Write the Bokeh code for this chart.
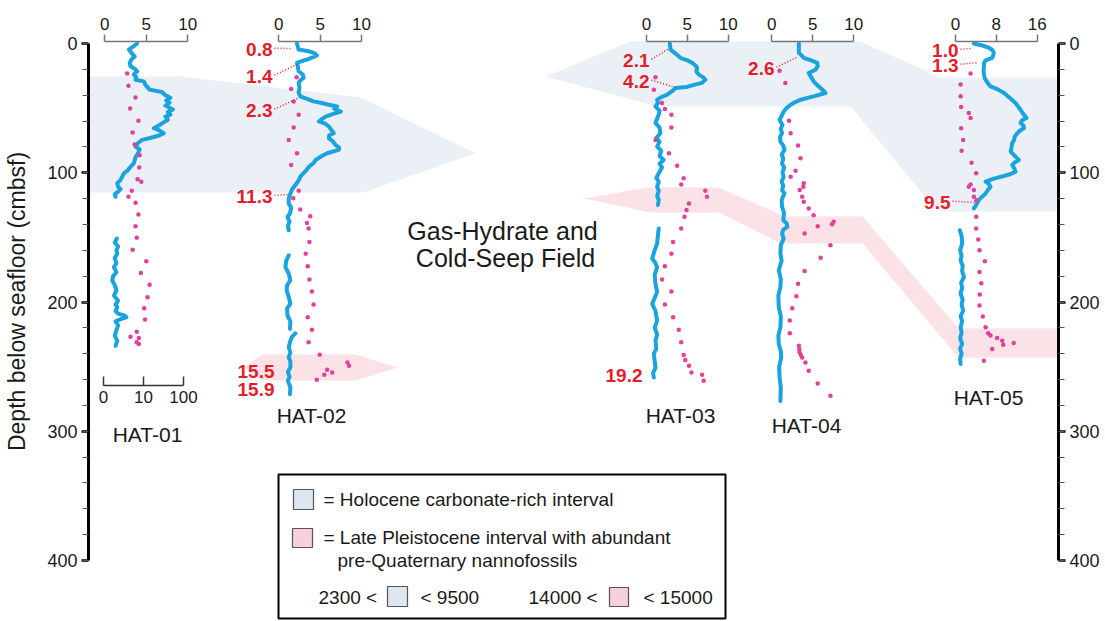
import numpy as np
from bokeh.plotting import figure
from bokeh.models import Range1d, LinearAxis, FixedTicker
from bokeh.core.properties import value
from bokeh.embed import file_html
from bokeh.resources import INLINE

nan = float("nan")

# ---------------- data ----------------
CORES = ["HAT-01", "HAT-02", "HAT-03", "HAT-04", "HAT-05"]
SCALE_MAX = [10, 10, 10, 10, 16]
SCALE_TICKS = [[0, 5, 10], [0, 5, 10], [0, 5, 10], [0, 5, 10], [0, 8, 16]]
HAT01_LOWER_TICKS = [0, 1, 2]
HAT01_LOWER_LABELS = ["0", "10", "100"]
DEPTH_TICKS = [0, 100, 200, 300, 400]
DEPTH_MINOR = list(range(0, 401, 20))

# blue profiles (depth cmbsf, value)
HAT01_LINE = [(0,3.9),(2,3.5),(4.7,2.9),(8,3.3),(10,3.6),(12.4,3.2),(15,3.0),(17.6,3.1),(19.5,3.6),(21.5,3.9),
              (24,3.5),(26,3.8),(28,3.7),(29.3,4.7),(32,4.9),(35.7,5.4),(37.5,6.9),(39.6,7.2),(42,7.9),(44,7.4),
              (45.8,7.8),(48,7.3),(51,8.2),(53,7.6),(55,7.9),(56.5,7.3),(59,7.6),(61.4,7.0),(63,6.6),(65.5,5.9),
              (67,6.5),(69.4,7.1),(71,6.6),(72.5,5.8),(74.6,4.5),(77,4.0),(79.8,3.7),(82,4.2),(84.9,4.0),(88,3.7),
              (92.7,3.5),(96,3.0),(98,2.8),(100.4,2.3),(103,2.1),(105.6,1.9),(108,1.5),(110.8,1.6),(112.5,1.9),
              (114.7,1.6),(116.5,1.2),(118.6,1.3),(nan,nan),
              (150.9,1.45),(154,1.2),(157,1.6),(160,1.4),(162.6,1.5),(166,1.2),(170,1.4),(173,1.1),(177,1.4),
              (180,1.0),(183.3,0.9),(187,1.2),(191,1.4),(195,1.1),(199,1.6),(202,1.3),(204,1.5),(207,1.3),
              (209,1.6),(210.5,2.4),(211.8,2.6),(213,2.0),(215,1.3),(218,1.6),(222,1.4),(226,1.2),(230,1.5),(234,1.3)]
HAT01_DOTS = [(23.3,2.7),(32.6,2.85),(41.7,3.7),(50.2,3.05),(59.8,4.05),(68.9,3.35),(78.2,3.6),(86.5,4.2),
              (96,4.15),(105,3.95),(107,4.4),(114,3.25),(118.6,2.85),(123.3,3.7),(132.3,4.05),(141.4,3.7),
              (150.2,3.85),(159.5,3.35),(168.5,5.0),(177.6,4.35),(186.7,5.4),(196.3,5.15),(204.8,4.75),
              (213.6,4.85),(223,3.85),(226.8,3.1),(227.8,4.1),(231.2,3.85),(232.5,4.1)]

HAT02_LINE = [(0,2.2),(2.5,2.3),(4.7,2.4),(6,3.6),(7.5,4.3),(9.3,4.6),(11,4.0),(12.4,3.4),(14,2.6),(15,2.2),
              (18,2.3),(21.5,2.4),(24,2.9),(26.6,3.0),(28.5,2.6),(30.5,2.4),(34,2.5),(38,2.4),(40.9,2.6),(43,3.5),
              (44.8,4.2),(46,5.2),(47.4,6.05),(48.7,7.05),(50.5,6.7),(52.6,7.5),(54.5,6.6),(56.5,5.65),(58.5,5.2),
              (60.3,4.85),(62,5.6),(64.2,6.05),(66.5,6.3),(69.4,6.65),(71,6.1),(73.2,6.05),(75.5,6.5),(78.4,6.85),
              (80.5,7.3),(82.3,7.25),(84.9,5.85),(87,5.2),(90.1,4.45),(92.5,4.2),(95.3,3.65),(99,3.2),(103,2.6),
              (106,2.4),(109.5,2.0),(113,1.6),(116,1.4),(120,1.2),(123.7,1.2),(127,1.5),(131.5,1.35),(134,1.05),
              (138,1.3),(141,1.1),(144.5,1.2),(nan,nan),
              (163.9,1.2),(168,0.9),(173,0.8),(178,1.2),(183.3,1.4),(187,1.0),(191,0.95),(196,1.2),(201.4,1.4),
              (205,1.0),(210.5,1.05),(215,1.4),(220.8,1.35),(nan,nan),
              (224.2,2.0),(227,1.6),(230,1.4),(235,1.2),(239,1.4),(242.9,1.2),(246,1.4),(250.6,1.4),(254,1.1),
              (258,1.3),(261,1.1),(266,1.4),(271.3,1.35)]
HAT02_DOTS = [(26.2,2.15),(35.2,1.5),(44.8,1.8),(55.1,2.4),(65,1.8),(74.6,1.2),(84.9,2.2),(94,1.5),(114,2.4),
              (119.8,1.75),(128.4,2.6),(133.6,3.8),(138.8,3.4),(143.2,3.6),(153.5,3.7),(162.6,3.25),(172.4,3.5),
              (182.5,3.7),(191.8,4.0),(201.9,4.2),(211.8,3.5),(221.4,4.0),(231.2,3.6),(240.8,4.95),(246.8,8.3),
              (249.3,8.5),(252.4,5.85),(254.5,6.45),(256.3,5.5),(260.2,4.6)]

HAT03_LINE = [(0,2.85),(2.5,2.9),(4.7,2.95),(8,3.6),(11.1,4.15),(13,5.0),(15,5.6),(17,6.0),(18.9,6.2),(21.5,6.1),
              (24.1,6.4),(26,6.9),(28,7.2),(30.5,6.8),(32,5.8),(33.6,4.95),(34.4,3.55),(36.5,3.2),(39.6,2.55),
              (41.5,1.8),(43.5,1.3),(46,1.4),(48.7,1.1),(52,1.6),(55.1,1.5),(58,1.3),(61.6,1.1),(65,1.6),(69.4,1.7),
              (73,1.2),(76,1.6),(79.8,1.3),(83,1.8),(87,1.6),(90.1,2.1),(93,1.6),(96,1.9),(100.4,1.5),(104,1.2),
              (107,1.5),(110.8,1.3),(114,1.5),(118,1.3),(121,1.5),(125,1.4),(nan,nan),
              (143.2,1.5),(148,1.4),(154.8,1.3),(160,1.0),(166.4,0.7),(170,1.1),(173,1.3),(179,1.0),(185.9,1.1),
              (192,1.3),(197,1.0),(201.4,0.7),(207,1.1),(214.4,1.3),(220,1.0),(225,1.3),(229.9,1.1),(236,1.2),
              (240,0.9),(245.4,1.0),(251,1.1),(255,0.8),(258.4,0.9)]
HAT03_DOTS = [(26.2,1.1),(35.7,0.9),(46.1,1.9),(50.7,2.25),(55.1,3.05),(65,3.05),(74.6,1.1),(84.9,2.75),
              (94.5,3.75),(104.3,4.55),(109,4.25),(114,7.2),(118.6,7.4),(123.7,5.2),(128.9,4.9),(134.1,4.65),
              (143.2,4.25),(153.5,3.25),(162.6,3.05),(172.4,2.25),(182.5,1.9),(191.8,3.05),(201.9,2.25),
              (211.8,3.25),(221.4,3.95),(231.2,4.25),(241,4.55),(244.9,4.75),(249.3,5.2),(254.5,5.5),
              (256.3,6.8),(261,7.0)]

HAT04_LINE = [(0,3.3),(3.5,3.3),(7.2,3.3),(9,3.6),(11.1,3.9),(13,4.8),(15,5.55),(17.5,5.6),(20.2,5.35),(22.8,4.5),
              (26,4.8),(29.3,5.1),(32,5.5),(34.4,5.95),(36.5,6.3),(38.3,6.55),(40.9,5.1),(43.5,3.5),(45.5,2.8),
              (47.4,2.3),(50,1.8),(52.6,1.45),(56,1.2),(59,0.95),(63,1.3),(66,1.1),(69.4,1.25),(72.5,1.0),
              (75.9,1.05),(79,1.4),(82.3,1.55),(86,1.2),(89,1.4),(92.7,1.25),(96,1.5),(100,1.3),(103,1.45),
              (107,1.2),(110,1.4),(113.4,1.25),(116,1.55),(121,1.2),(126.4,1.25),(131,1.5),(136.7,1.4),(139,1.8),
              (141.9,1.9),(144,1.4),(147,1.25),(150.9,1.45),(156,1.1),(162.6,1.05),(168,1.2),(175.5,0.85),
              (182,1.1),(188.5,1.05),(195,0.8),(204,0.85),(211,1.1),(219.6,1.05),(226,0.8),(232.5,0.85),
              (238,1.1),(242.9,1.15),(250,0.9),(258.4,0.95),(266,1.1),(276.5,1.05)]
HAT04_DOTS = [(21,0.95),(30.5,1.65),(59.8,2.1),(69.4,2.3),(79,3.2),(88.8,3.5),(98.4,2.9),(103,2.3),(108.2,3.9),
              (110.8,3.85),(113.4,3.4),(118.6,3.7),(122.5,3.9),(127.6,4.5),(132.8,5.1),(138,7.55),(139.8,7.35),
              (141.4,5.6),(147,4.0),(156.1,7.15),(165.7,5.95),(176.1,4.0),(185.9,3.2),(195.5,3.0),(204.8,2.5),
              (214.4,2.2),(224.2,2.2),(233.8,3.3),(236.5,3.35),(239,3.4),(241,3.55),(242.9,3.7),(246.8,4.1),
              (253.2,4.5),(263.1,5.6),(272.6,7.15)]

HAT05_LINE = [(0,3.6),(1.5,5.2),(3.3,6.55),(5,7.2),(7.2,7.5),(9,7.4),(11.1,7.2),(13,5.9),(15,5.6),(18.9,5.55),
              (22,5.5),(26.6,5.7),(30,6.2),(33.2,6.85),(35.5,8.3),(38.3,9.5),(42,10.6),(46.1,11.75),(50,12.5),
              (53,13.0),(55.1,13.4),(57.7,13.9),(59.5,13.0),(61.6,12.75),(63.5,13.3),(65.5,13.4),(67.5,12.6),
              (69.4,12.1),(72,11.6),(74.5,11.5),(77.2,11.1),(80,11.0),(83.6,10.8),(86.5,11.5),(88.5,12.0),
              (90.1,12.4),(92,11.6),(94,11.1),(96.5,11.5),(99.2,11.75),(101,10.8),(102.5,9.5),(104.5,7.5),
              (106.9,5.9),(108.5,6.5),(110.8,6.85),(113.5,6.3),(116,5.9),(118.5,5.2),(121.2,4.55),(124,4.2),
              (126.4,3.8),(127.6,3.6),(nan,nan),
              (144.5,0.85),(149,1.2),(154.8,1.3),(160,0.9),(164,1.2),(167.8,1.0),(172,1.4),(176,1.3),(180.7,1.65),
              (185,1.1),(189,1.3),(193.6,1.0),(198,1.4),(202,1.2),(206.6,1.5),(211,1.0),(215,1.3),(219.6,1.0),
              (224,1.2),(228,0.9),(232.5,1.3),(236,0.9),(240,1.2),(244,0.9),(248,1.0)]
HAT05_DOTS = [(23.3,2.95),(31.8,1.0),(40.9,1.0),(49.2,1.1),(53.8,2.6),(57.7,2.95),(65.5,1.1),(74.6,1.5),
              (82.9,1.2),(92.2,3.15),(100.4,4.05),(109,2.95),(110.8,2.6),(113.4,3.6),(118.6,3.6),(121.2,4.1),
              (134.1,4.05),(143.2,4.05),(151.7,4.45),(160,4.7),(168.5,5.75),(176.8,4.7),(185.4,5.05),
              (194.2,4.75),(202.7,4.7),(211.3,5.35),(219.6,5.9),(224.2,6.4),(226,6.85),(227.8,8.15),
              (229.9,9.15),(233,9.35),(231.7,11.4),(236.4,7.2),(245.4,5.55)]

LINES = [HAT01_LINE, HAT02_LINE, HAT03_LINE, HAT04_LINE, HAT05_LINE]
DOTS = [HAT01_DOTS, HAT02_DOTS, HAT03_DOTS, HAT04_DOTS, HAT05_DOTS]

# age labels (ka): core index, text, text depth, pointed value, pointed depth
AGE_CORE = [1, 1, 1, 1, 1, 1, 2, 2, 2, 3, 4, 4, 4]
AGE_TEXT = ["0.8", "1.4", "2.3", "11.3", "15.5", "15.9", "2.1", "4.2", "19.2", "2.6", "1.0", "1.3", "9.5"]
AGE_DEPTH = [4.6, 25.5, 51.8, 118.4, 253.8, 267.7, 13.2, 29.4, 256.9, 19.3, 5.4, 17.0, 123.0]
AGE_TARGET_VAL = [1.5, 2.4, 2.25, 1.2, None, None, 2.6, 3.55, None, 3.0, 3.3, 4.5, 3.7]
AGE_TARGET_DEPTH = [3.9, 15.5, 42.6, 116.8, None, None, 4.6, 34.0, None, 10.8, 3.9, 14.7, 123.0]

# ---------------- layout ----------------
W, H = 1105, 621
Y_ZERO, PX_CM = 43.0, 1.2925
FONT = "Liberation Sans"
BLUE = "#1ba3df"
PINK = "#e2409a"
RED = "#e31e2a"
INK = "#1a1a1a"
HOLO_FILL = "#ebf0f7"
PLEI_FILL = "#fbe2e6"


def dep(ypx):
    return (ypx - Y_ZERO) / PX_CM


CORE_X0 = [104.3, 278.3, 646.0, 771.3, 955.0]
CORE_X1 = [187.3, 361.0, 727.7, 853.3, 1036.7]
CORE_LABEL_XY = [(147, 434), (311, 415), (680, 415), (806, 425), (988, 397)]
AGE_RIGHT_PX = [272, 272, 272, 272, 274, 274, 649, 649, 642, 774, 958, 958, 950]

p = figure(width=W, height=H, x_range=Range1d(0, W), y_range=Range1d(dep(H), dep(0)),
           output_backend="svg", toolbar_location=None, x_axis_location=None, y_axis_location=None,
           min_border=0, background_fill_color="white", border_fill_color="white")
p.outline_line_color = None
p.grid.grid_line_color = None

scales = []
ranges = {}
for i, c in enumerate(CORES):
    s = (CORE_X1[i] - CORE_X0[i]) / SCALE_MAX[i]
    scales.append(s)
    ranges[c] = Range1d(-CORE_X0[i] / s, (W - CORE_X0[i]) / s)
ranges["HAT-01 lower"] = Range1d(-103.0 / 40.0, (W - 103.0) / 40.0)
p.extra_x_ranges = ranges

# ---- shaded intervals (x in page units, depth in cmbsf) ----
holo_left_x = [89, 180, 360, 475, 363, 89]
holo_left_d = [25.5, 25.5, 41.8, 85.0, 115.3, 115.3]
holo_right_x = [545, 630, 860, 940, 1057, 1057, 937, 850, 657]
holo_right_d = [25.5, -1.5, -1.5, 26.3, 26.3, 130.0, 130.0, 48.7, 48.7]
plei_left_x = [243, 262, 355, 397, 355, 262]
plei_left_d = [250.7, 240.6, 240.6, 250.7, 260.7, 260.7]
plei_right_x = [583, 647, 718, 785, 862, 958, 1057, 1057, 958, 862, 780, 718, 650]
plei_right_d = [119.9, 111.4, 111.4, 133.8, 133.8, 220.5, 220.5, 242.9, 242.9, 154.7, 154.7, 130.8, 130.8]
p.patches(xs=[holo_left_x, holo_right_x], ys=[holo_left_d, holo_right_d],
          fill_color=HOLO_FILL, line_color=None)
p.patches(xs=[plei_left_x, plei_right_x], ys=[plei_left_d, plei_right_d],
          fill_color=PLEI_FILL, line_color=None)

# ---- axes ----
left = LinearAxis(fixed_location=88, bounds=(0, 400),
                  ticker=FixedTicker(ticks=DEPTH_TICKS, minor_ticks=DEPTH_MINOR),
                  axis_line_width=3, axis_line_color="black",
                  major_tick_out=7, major_tick_in=0, major_tick_line_width=2.5, major_tick_line_color="black",
                  minor_tick_out=6, minor_tick_in=0, minor_tick_line_width=1, minor_tick_line_color="#555",
                  major_label_text_font=FONT, major_label_text_font_size="18px",
                  major_label_text_color=INK, major_label_standoff=4)
p.add_layout(left, "left")
right = LinearAxis(fixed_location=1058, bounds=(0, 400),
                   ticker=FixedTicker(ticks=DEPTH_TICKS, minor_ticks=DEPTH_MINOR),
                   axis_line_width=3, axis_line_color="black",
                   major_tick_out=7, major_tick_in=0, major_tick_line_width=2.5, major_tick_line_color="black",
                   minor_tick_out=6, minor_tick_in=0, minor_tick_line_width=1, minor_tick_line_color="#555",
                   major_label_text_font=FONT, major_label_text_font_size="18px",
                   major_label_text_color=INK, major_label_standoff=4)
p.add_layout(right, "right")

for i, c in enumerate(CORES):
    ax = LinearAxis(x_range_name=c, fixed_location=dep(41), bounds=(0, SCALE_MAX[i]),
                    ticker=FixedTicker(ticks=SCALE_TICKS[i]),
                    axis_line_color="#777", axis_line_width=1.5,
                    major_tick_out=7, major_tick_in=0, major_tick_line_color="#777", major_tick_line_width=1.5,
                    minor_tick_line_color=None,
                    major_label_text_font=FONT, major_label_text_font_size="17px",
                    major_label_text_color=INK, major_label_standoff=5)
    p.add_layout(ax, "above")

low = LinearAxis(x_range_name="HAT-01 lower", fixed_location=dep(385), bounds=(0, 2),
                 ticker=FixedTicker(ticks=HAT01_LOWER_TICKS),
                 major_label_overrides={t: l for t, l in zip(HAT01_LOWER_TICKS, HAT01_LOWER_LABELS)},
                 axis_line_color="#333", axis_line_width=1.5,
                 major_tick_out=0, major_tick_in=9, major_tick_line_color="#333", major_tick_line_width=1.5,
                 minor_tick_line_color=None,
                 major_label_text_font=FONT, major_label_text_font_size="17px",
                 major_label_text_color=INK, major_label_standoff=5)
p.add_layout(low, "below")

# ---- profiles ----
for i, c in enumerate(CORES):
    d, v = zip(*LINES[i])
    p.line(x=list(v), y=list(d), x_range_name=c, line_color=BLUE, line_width=4,
           line_join="round", line_cap="round")
    dd, dv = zip(*DOTS[i])
    p.scatter(x=list(dv), y=list(dd), x_range_name=c, size=4.5, fill_color=PINK, line_color=None)

# ---- age labels and leaders ----
for k in range(len(AGE_TEXT)):
    ci = AGE_CORE[k]
    p.text(x=[AGE_RIGHT_PX[k]], y=[AGE_DEPTH[k]], text=[AGE_TEXT[k]], text_font=value(FONT),
           text_font_size="19px", text_font_style="bold", text_color=RED,
           text_align="right", text_baseline="middle")
    if AGE_TARGET_VAL[k] is not None:
        x_start = (AGE_RIGHT_PX[k] + 2 - CORE_X0[ci]) / scales[ci]
        p.segment(x0=[x_start], y0=[AGE_DEPTH[k] - 1.0], x1=[AGE_TARGET_VAL[k]], y1=[AGE_TARGET_DEPTH[k]],
                  x_range_name=CORES[ci], line_color=RED, line_width=1.5, line_dash="1 2")

# ---- text ----
def txt(x, ypx, s, size, color=INK, align="left", angle=0.0, style="normal"):
    p.text(x=[x], y=[dep(ypx)], text=[s], text_font=value(FONT), text_font_size=f"{size}px",
           text_color=color, text_align=align, text_baseline="middle", angle=angle,
           text_font_style=style)

for i, c in enumerate(CORES):
    txt(CORE_LABEL_XY[i][0], CORE_LABEL_XY[i][1], c, 21, align="center")

txt(502, 230, "Gas-Hydrate and", 25, align="center")
txt(505, 257, "Cold-Seep Field", 25, align="center")
txt(16, 301, "Depth below seafloor (cmbsf)", 23, align="center", angle=np.pi / 2)

# ---- legend ----
p.quad(left=[278], right=[725], top=[dep(474)], bottom=[dep(618)],
       fill_color="white", line_color="black", line_width=2)
p.quad(left=[293, 387], right=[313, 407], top=[dep(489), dep(586)], bottom=[dep(509), dep(606)],
       fill_color="#dde6f1", line_color="#555", line_width=1.2)
p.quad(left=[292, 609], right=[312, 628], top=[dep(528), dep(587)], bottom=[dep(547), dep(606)],
       fill_color="#f8cfdf", line_color="#555", line_width=1.2)
txt(323, 499, "= Holocene carbonate-rich interval", 19)
txt(323, 537, "= Late Pleistocene interval with abundant", 19)
txt(337, 560, "pre-Quaternary nannofossils", 19)
txt(318, 597, "2300 <", 19)
txt(420, 597, "< 9500", 19)
txt(528, 597, "14000  <", 19)
txt(643, 597, "< 15000", 19)

open("out.html", "w").write(file_html(p, INLINE))
